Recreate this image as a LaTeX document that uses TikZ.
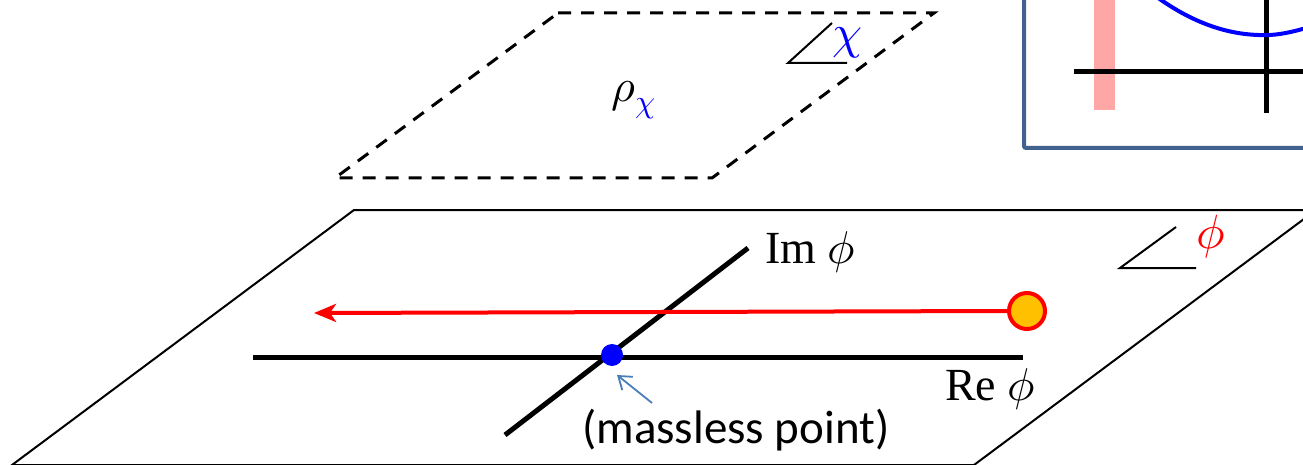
\documentclass[tikz,border=0pt]{standalone}
\usepackage{fontspec}
\usepackage{unicode-math}
\setmainfont{Liberation Serif}
\setmathfont{Latin Modern Math}
\newfontfamily\calib{Carlito}
\usetikzlibrary{arrows.meta}
\definecolor{frameblue}{HTML}{41618F}
\definecolor{pinkbar}{HTML}{FFA6A6}
\definecolor{orangeball}{HTML}{FFC000}
\definecolor{steel}{HTML}{4A7EBB}
\tikzset{
  planeline/.style={line width=2pt, black},
  dashplane/.style={line width=3pt, black, dash pattern=on 13pt off 10pt},
  axisline/.style={line width=5pt, black},
  anglemark/.style={line width=2pt, black},
  bigtext/.style={inner sep=0pt, font=\fontsize{46}{50}\selectfont},
}
\begin{document}
\begin{tikzpicture}[x=1pt,y=-1pt]
\clip (0,0) rectangle (1303,465);
\fill[white] (0,0) rectangle (1303,465);
% inset box
\fill[pinkbar] (1094,-5) rectangle (1115,110);
\draw[axisline] (1074,72) -- (1310,72);
\draw[axisline] (1266,-5) -- (1266,113);
\draw[blue, line width=4pt] (1150,-8) .. controls (1200,30) and (1240,36) .. (1270,35) .. controls (1285,34) and (1295,31) .. (1310,27);
\draw[frameblue, line width=4pt, rounded corners=2pt] (1024,-10) -- (1024,148) -- (1310,148);
% top dashed plane
\coordinate (t1) at (558,13);
\coordinate (t2) at (934,13);
\coordinate (t3) at (712,178);
\coordinate (t4) at (335,178);
\draw[dashplane] (t1) -- (t2) -- (t3) -- (t4) -- cycle;
\node[bigtext, font=\fontsize{46}{50}\selectfont] (rho) at (634,100) {$\rho_{\textcolor{blue}{\chi}}$};
\coordinate (ca) at (832,23);
\coordinate (cb) at (788,63);
\coordinate (cc) at (847,63);
\draw[anglemark] (ca) -- (cb) -- (cc);
\node[bigtext, text=blue, font=\fontsize{48}{52}\selectfont] (chi) at (848,43) {$\chi$};
% bottom plane
\coordinate (b1) at (354,210);
\coordinate (b2) at (1316,210);
\coordinate (b3) at (974,465);
\coordinate (b4) at (12,465);
\draw[planeline] (b1) -- (b2) -- (b3) -- (b4) -- cycle;
\coordinate (pa) at (1176,227);
\coordinate (pb) at (1120,268);
\coordinate (pc) at (1196,268);
\draw[anglemark] (pa) -- (pb) -- (pc);
\node[bigtext, text=red, font=\fontsize{48}{52}\selectfont] (phired) at (1211,237) {$\phi$};
% axes
\coordinate (im0) at (505,435);
\coordinate (im1) at (748,248);
\coordinate (re0) at (253,357);
\coordinate (re1) at (1023,357);
\draw[axisline] (im0) -- (im1);
\draw[axisline] (re0) -- (re1);
\node[bigtext, anchor=base west] (imlab) at (765,263) {Im $\phi$};
\node[bigtext, anchor=base west] (relab) at (945,400) {Re $\phi$};
% ball and arrow
\node[circle, draw=red, fill=orangeball, line width=4pt, minimum size=36pt, inner sep=0pt] (ball) at (1027,311) {};
\coordinate (arrtip) at (314,313);
\draw[red, line width=4pt, -{Stealth[length=22pt,width=18pt,inset=6pt]}] (ball.west) -- (arrtip);
% massless point
\node[circle, fill=blue, minimum size=22pt, inner sep=0pt] (dot) at (612,355) {};
\node[inner sep=0pt, anchor=base west, font=\calib\fontsize{47}{50}\selectfont] (mless) at (582,443) {(massless point)};
\coordinate (stail) at (652,403);
\coordinate (stip) at (617,375);
\draw[steel, line width=1.8pt, -{Straight Barb[length=12pt,width=17pt]}] (stail) -- (stip);
\end{tikzpicture}
\end{document}
